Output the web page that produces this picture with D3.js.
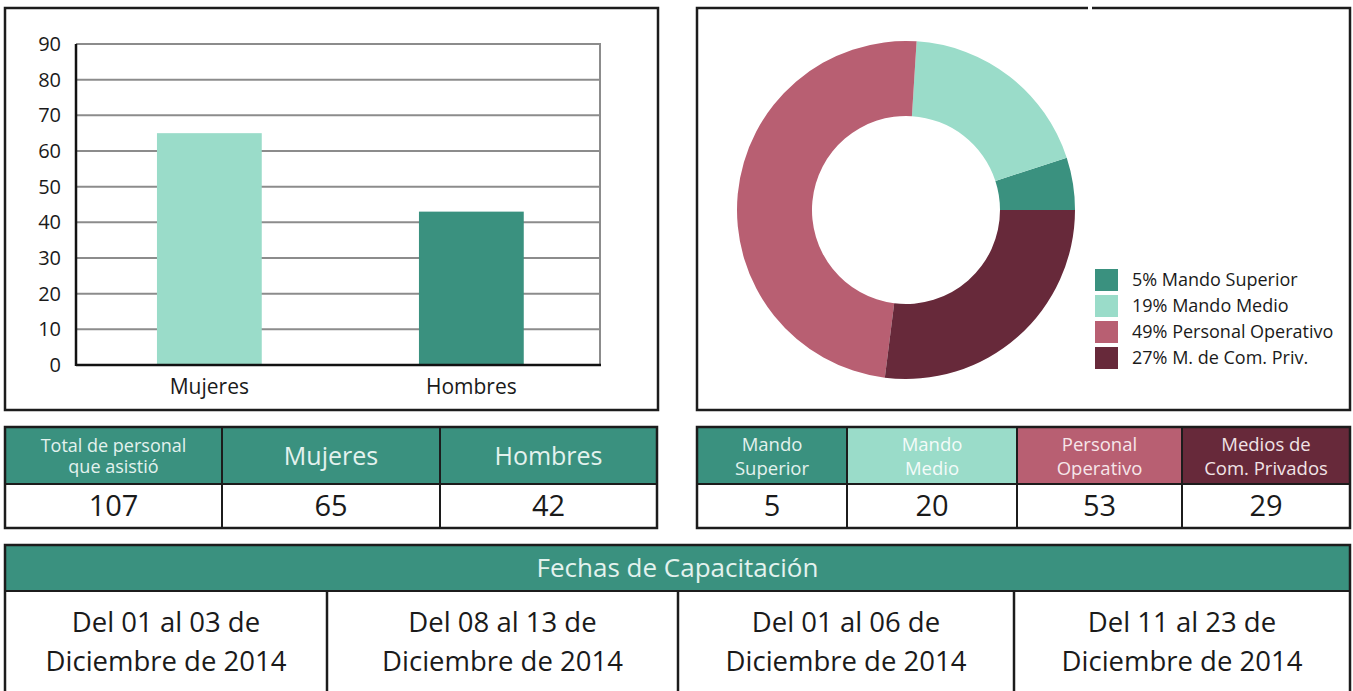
<!DOCTYPE html>
<html><head><meta charset="utf-8">
<script src="https://cdn.jsdelivr.net/npm/d3@7"></script>
<style>
html,body{margin:0;padding:0;background:#fff;}
svg{display:block;font-family:"Open Sans",sans-serif;}
</style></head>
<body>
<svg id="chart" width="1353" height="691"></svg>
<script>
// ---------- data ----------
const barCategories = ["Mujeres", "Hombres"];
const barValues = [65, 43];
const yTickValues = [0, 10, 20, 30, 40, 50, 60, 70, 80, 90];
const barColors = ["#9adcc9", "#3a917f"];

const pieLabels = ["Mando Superior", "Mando Medio", "Personal Operativo", "M. de Com. Priv."];
const piePercents = [5, 19, 49, 27];
const pieColors = ["#3a917f", "#9adcc9", "#b85f72", "#67293a"];

const summaryHeaders = [["Total de personal", "que asistió"], ["Mujeres"], ["Hombres"]];
const summaryValues = [107, 65, 42];

const levelHeaders = [["Mando", "Superior"], ["Mando", "Medio"], ["Personal", "Operativo"], ["Medios de", "Com. Privados"]];
const levelValues = [5, 20, 53, 29];

const datesTitle = "Fechas de Capacitación";
const dateRanges = [
  ["Del 01 al 03 de", "Diciembre de 2014"],
  ["Del 08 al 13 de", "Diciembre de 2014"],
  ["Del 01 al 06 de", "Diciembre de 2014"],
  ["Del 11 al 23 de", "Diciembre de 2014"]
];

// ---------- drawing ----------
const svg = d3.select("#chart");
const BORDER = "#1c1c1c";
const TEAL = "#3a917f";

// Panels
svg.append("rect").attr("x", 5).attr("y", 8).attr("width", 653).attr("height", 402)
  .attr("fill", "#fff").attr("stroke", BORDER).attr("stroke-width", 2.5);
svg.append("rect").attr("x", 697).attr("y", 8).attr("width", 653).attr("height", 402)
  .attr("fill", "#fff").attr("stroke", BORDER).attr("stroke-width", 2.5);
svg.append("rect").attr("x", 1088).attr("y", 5).attr("width", 4).attr("height", 6).attr("fill", "#fff");

// ---- Bar chart ----
const plot = {x0: 76, x1: 600, y0: 44, y1: 365};
const y = d3.scaleLinear().domain([0, 90]).range([plot.y1, plot.y0]);
const x = d3.scaleBand().domain(barCategories).range([plot.x0, plot.x1])
  .paddingInner(0.6).paddingOuter(0.3).align(0.515);

const bar = svg.append("g");
bar.selectAll("line.grid").data(yTickValues.filter(d => d > 0)).join("line")
  .attr("class", "grid")
  .attr("x1", plot.x0).attr("x2", plot.x1)
  .attr("y1", d => y(d)).attr("y2", d => y(d))
  .attr("stroke", "#8c8c8c").attr("stroke-width", 2);
bar.append("line").attr("x1", plot.x1).attr("x2", plot.x1).attr("y1", plot.y0 - 1).attr("y2", plot.y1)
  .attr("stroke", "#8c8c8c").attr("stroke-width", 2);

bar.selectAll("rect.bar").data(barValues).join("rect")
  .attr("class", "bar")
  .attr("x", (d, i) => x(barCategories[i]))
  .attr("width", x.bandwidth())
  .attr("y", d => y(d))
  .attr("height", d => y(0) - y(d))
  .attr("fill", (d, i) => barColors[i]);

bar.append("line").attr("x1", plot.x0).attr("x2", plot.x0).attr("y1", plot.y0).attr("y2", plot.y1 + 1)
  .attr("stroke", "#111").attr("stroke-width", 2.5);
bar.append("line").attr("x1", plot.x0).attr("x2", plot.x1 + 1).attr("y1", plot.y1).attr("y2", plot.y1)
  .attr("stroke", "#111").attr("stroke-width", 2.5);

const yAxis = bar.append("g").attr("transform", `translate(${plot.x0},0)`)
  .call(d3.axisLeft(y).tickValues(yTickValues).tickSize(0).tickPadding(15));
yAxis.select(".domain").remove();
yAxis.selectAll("text").attr("font-size", 20).attr("fill", "#1a1a1a").attr("font-family", "Open Sans");

const xAxis = bar.append("g").attr("transform", `translate(0,${plot.y1})`)
  .call(d3.axisBottom(x).tickSize(0).tickPadding(14));
xAxis.select(".domain").remove();
xAxis.selectAll("text").attr("font-size", 21).attr("fill", "#1a1a1a").attr("font-family", "Open Sans");

// ---- Donut ----
const pie = d3.pie().sort(null).startAngle(Math.PI / 2).endAngle(Math.PI / 2 - 2 * Math.PI);
const arc = d3.arc().innerRadius(94).outerRadius(169);
const donut = svg.append("g").attr("transform", "translate(906,210)");
donut.selectAll("path").data(pie(piePercents)).join("path")
  .attr("d", arc).attr("fill", (d, i) => pieColors[i]);

const legend = svg.append("g").attr("transform", "translate(1095,269)");
const li = legend.selectAll("g").data(pieLabels).join("g")
  .attr("transform", (d, i) => `translate(0,${i * 26})`);
li.append("rect").attr("width", 23).attr("height", 22).attr("fill", (d, i) => pieColors[i]);
li.append("text").attr("x", 37).attr("y", 17).attr("font-size", 18).attr("fill", "#1a1a1a")
  .text((d, i) => `${piePercents[i]}% ${d}`);

// ---- Tables ----
function drawTable(cols, top, mid, bot, headers, values, headerFills, headerTextFill, headerSize, lineGap, valueSize) {
  const g = svg.append("g");
  cols.slice(0, -1).forEach((c0, i) => {
    const c1 = cols[i + 1];
    g.append("rect").attr("x", c0).attr("y", top).attr("width", c1 - c0).attr("height", mid - top)
      .attr("fill", headerFills[i]);
    const lines = headers[i];
    const hs = lines.length > 1 ? headerSize[1] : headerSize[0];
    const cy = (top + mid) / 2 + 0.5;
    lines.forEach((t, k) => {
      g.append("text").attr("x", (c0 + c1) / 2)
        .attr("y", cy + (k - (lines.length - 1) / 2) * lineGap)
        .attr("dy", "0.36em").attr("text-anchor", "middle")
        .attr("font-size", hs).attr("fill", headerTextFill[i]).text(t);
    });
    g.append("text").attr("x", (c0 + c1) / 2).attr("y", (mid + bot) / 2).attr("dy", "0.36em")
      .attr("text-anchor", "middle").attr("font-size", valueSize).attr("fill", "#1a1a1a").text(values[i]);
  });
  g.append("rect").attr("x", cols[0]).attr("y", top).attr("width", cols[cols.length - 1] - cols[0])
    .attr("height", bot - top).attr("fill", "none").attr("stroke", BORDER).attr("stroke-width", 2.5);
  g.append("line").attr("x1", cols[0]).attr("x2", cols[cols.length - 1]).attr("y1", mid).attr("y2", mid)
    .attr("stroke", BORDER).attr("stroke-width", 2);
  cols.slice(1, -1).forEach(c => g.append("line").attr("x1", c).attr("x2", c).attr("y1", top).attr("y2", bot)
    .attr("stroke", BORDER).attr("stroke-width", 2));
}

drawTable([5, 222, 440, 657], 427, 484, 528, summaryHeaders, summaryValues,
  [TEAL, TEAL, TEAL], ["#e3f2ee", "#e3f2ee", "#e3f2ee"], [25, 18], 21.5, 29);
drawTable([697, 847, 1017, 1182, 1350], 427, 484, 528, levelHeaders, levelValues,
  pieColors, ["#e3f2ee", "#f4fbf9", "#f6e6ea", "#f1e3e6"], [18.5, 18.5], 24, 29);

// ---- Dates table ----
const dt = svg.append("g");
const dCols = [5, 327, 678, 1014, 1350];
const dTop = 545, dMid = 591, dBot = 700;
dt.append("rect").attr("x", dCols[0]).attr("y", dTop).attr("width", dCols[4] - dCols[0]).attr("height", dMid - dTop)
  .attr("fill", TEAL);
dt.append("text").attr("x", (dCols[0] + dCols[4]) / 2).attr("y", (dTop + dMid) / 2).attr("dy", "0.36em")
  .attr("text-anchor", "middle").attr("font-size", 26).attr("fill", "#e3f2ee").text(datesTitle);
dateRanges.forEach((lines, i) => {
  const cx = (dCols[i] + dCols[i + 1]) / 2;
  lines.forEach((t, k) => {
    dt.append("text").attr("x", cx).attr("y", 632 + k * 39).attr("text-anchor", "middle")
      .attr("font-size", 27.5).attr("fill", "#1a1a1a").text(t);
  });
});
dt.append("rect").attr("x", dCols[0]).attr("y", dTop).attr("width", dCols[4] - dCols[0]).attr("height", dBot - dTop)
  .attr("fill", "none").attr("stroke", BORDER).attr("stroke-width", 2.5);
dt.append("line").attr("x1", dCols[0]).attr("x2", dCols[4]).attr("y1", dMid).attr("y2", dMid)
  .attr("stroke", BORDER).attr("stroke-width", 2);
dCols.slice(1, -1).forEach(c => dt.append("line").attr("x1", c).attr("x2", c).attr("y1", dMid).attr("y2", dBot)
  .attr("stroke", BORDER).attr("stroke-width", 2.5));
</script>
</body></html>
